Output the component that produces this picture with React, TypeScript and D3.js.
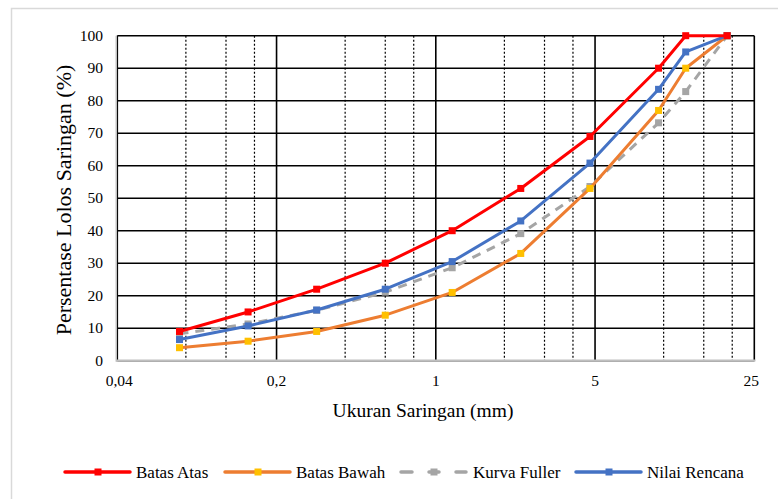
import React from "react";
import * as d3 from "d3";

const sieveSizes = [0.075, 0.15, 0.3, 0.6, 1.18, 2.36, 4.75, 9.5, 12.5, 19];
const batasAtas = [9, 15, 22, 30, 40, 53, 69, 90, 100, 100];
const batasBawah = [4, 6, 9, 14, 21, 33, 53, 77, 90, 100];
const kurvaFuller = [8.3, 11.3, 15.5, 21.1, 28.6, 39.1, 53.6, 73.2, 82.8, 100];
const nilaiRencana = [6.5, 10.7, 15.6, 22, 30.5, 43, 60.8, 83.5, 95, 100];

const xMajorTicks = [0.04, 0.2, 1, 5, 25];
const xTickLabels = ["0,04", "0,2", "1", "5", "25"];
const xMinorTicks = [0.08, 0.12, 0.16, 0.4, 0.6, 0.8, 2, 3, 4, 10, 15, 20];
const yTicks = [0, 10, 20, 30, 40, 50, 60, 70, 80, 90, 100];

const seriesNames = ["Batas Atas", "Batas Bawah", "Kurva Fuller", "Nilai Rencana"];

const W = 778;
const H = 499;
const L = 117.3, R = 754.3, T = 35.7, B = 360.7;
const FONT = '"Liberation Serif"';

export default function App() {
  const x = d3.scaleLog().domain([0.04, 25]).range([L, R]);
  const y = d3.scaleLinear().domain([0, 100]).range([B, T]);
  const line = d3
    .line<[number, number]>()
    .x((d) => x(d[0]))
    .y((d) => y(d[1]));

  const series = [
    { name: seriesNames[0], data: batasAtas, stroke: "#FF0000", marker: "#FF0000", dash: undefined },
    { name: seriesNames[1], data: batasBawah, stroke: "#ED7D31", marker: "#FFC000", dash: undefined },
    { name: seriesNames[2], data: kurvaFuller, stroke: "#A5A5A5", marker: "#A5A5A5", dash: "9,7" },
    { name: seriesNames[3], data: nilaiRencana, stroke: "#4472C4", marker: "#4472C4", dash: undefined },
  ];
  const drawOrder = [2, 1, 3, 0];

  const legendItems = [
    { lx: 65, tx: 136 },
    { lx: 225, tx: 296 },
    { lx: 401, tx: 473 },
    { lx: 576, tx: 647 },
  ];
  const legY = 472;
  const ms = 7;
  const ts: React.CSSProperties = { fontFamily: FONT };

  return (
    <svg width={W} height={H} style={{ position: "absolute", left: 0, top: 0 }}>
      <rect x={0} y={0} width={W} height={H} fill="#fff" />
      <rect x={11.5} y={8.5} width={W} height={H} fill="none" stroke="#d9d9d9" strokeWidth={1.5} />
      {xMinorTicks.map((v) => (
        <line key={"mn" + v} x1={x(v)} x2={x(v)} y1={T} y2={B} stroke="#000" strokeWidth={1.2} strokeDasharray="2,2" />
      ))}
      {yTicks.map((v) => (
        <line key={"h" + v} x1={L} x2={R} y1={y(v)} y2={y(v)} stroke="#000" strokeWidth={1.6} />
      ))}
      {xMajorTicks.map((v) => (
        <line key={"mj" + v} x1={x(v)} x2={x(v)} y1={T} y2={B} stroke="#000" strokeWidth={1.6} />
      ))}
      <line x1={L - 1} x2={L - 1} y1={T} y2={B + 1} stroke="#bfbfbf" strokeWidth={1.5} />
      <line x1={L - 1} x2={R + 1} y1={B} y2={B} stroke="#bfbfbf" strokeWidth={2.2} />
      {yTicks.map((v) => (
        <text key={"yl" + v} x={103} y={y(v) + 5} textAnchor="end" fontSize={15.5} fill="#000" style={ts}>
          {v}
        </text>
      ))}
      {xMajorTicks.map((v, i) => (
        <text key={"xl" + v} x={x(v) + (i === 0 ? 2 : i === 4 ? -3 : 0)} y={386} textAnchor="middle" fontSize={15.5} fill="#000" style={ts}>
          {xTickLabels[i]}
        </text>
      ))}
      <text x={423} y={417} textAnchor="middle" fontSize={19.5} fill="#000" style={ts}>
        Ukuran Saringan (mm)
      </text>
      <text transform={`translate(71,${200}) rotate(-90)`} textAnchor="middle" fontSize={22} fill="#000" style={ts}>
        Persentase Lolos Saringan (%)
      </text>
      {drawOrder.map((si) => {
        const s = series[si];
        const pts: [number, number][] = sieveSizes.map((d, i) => [d, s.data[i]]);
        return (
          <g key={s.name}>
            <path d={line(pts) || ""} fill="none" stroke={s.stroke} strokeWidth={3} strokeDasharray={s.dash} strokeLinejoin="round" />
            {pts.map((p, i) => (
              <rect key={i} x={x(p[0]) - ms / 2} y={y(p[1]) - ms / 2} width={ms} height={ms} fill={s.marker} />
            ))}
          </g>
        );
      })}
      {series.map((s, i) => {
        const it = legendItems[i];
        return (
          <g key={"lg" + i}>
            {s.dash ? (
              <g>
                <line x1={it.lx} x2={it.lx + 11} y1={legY} y2={legY} stroke={s.stroke} strokeWidth={3.5} strokeLinecap="round" />
                <line x1={it.lx + 28} x2={it.lx + 38} y1={legY} y2={legY} stroke={s.stroke} strokeWidth={3.5} strokeLinecap="round" />
                <line x1={it.lx + 55} x2={it.lx + 65} y1={legY} y2={legY} stroke={s.stroke} strokeWidth={3.5} strokeLinecap="round" />
              </g>
            ) : (
              <line x1={it.lx} x2={it.lx + 65} y1={legY} y2={legY} stroke={s.stroke} strokeWidth={3.5} strokeLinecap="round" />
            )}
            <rect x={it.lx + 33 - ms / 2} y={legY - ms / 2} width={ms} height={ms} fill={s.marker} />
            <text x={it.tx} y={legY + 5.5} fontSize={17} fill="#000" style={ts}>
              {s.name}
            </text>
          </g>
        );
      })}
    </svg>
  );
}
